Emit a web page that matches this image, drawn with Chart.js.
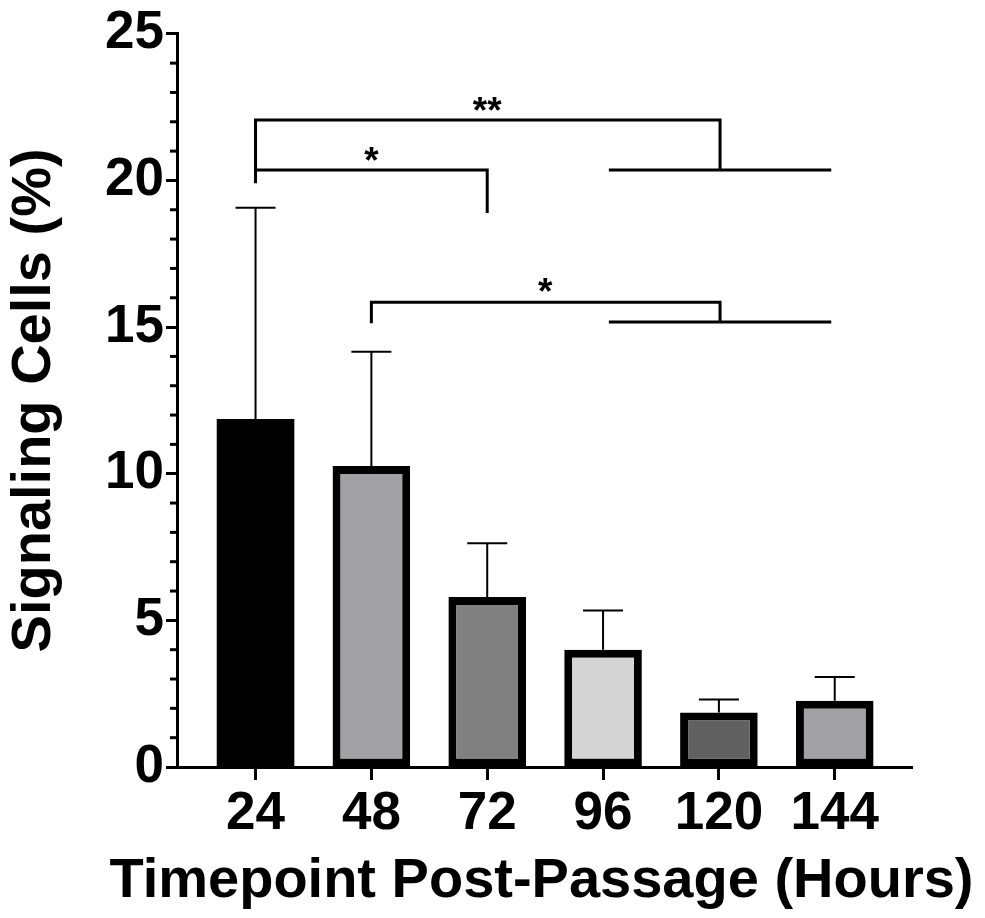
<!DOCTYPE html>
<html>
<head>
<meta charset="utf-8">
<script src="https://cdn.jsdelivr.net/npm/chart.js@4.4.1/dist/chart.umd.min.js"></script>
<style>
  html, body { margin: 0; padding: 0; background: #fff; }
  #c { display: block; }
</style>
</head>
<body>
<canvas id="c" width="985" height="918"></canvas>
<script>
// ---- data ----
const categories = ['24', '48', '72', '96', '120', '144'];
const meanValues = [11.87, 10.26, 5.80, 4.00, 1.86, 2.26];
const errorUpper = [19.07, 14.16, 7.63, 5.34, 2.30, 3.07];
const barColors = ['#000000', '#a1a0a5', '#808080', '#d4d4d4', '#616161', '#a1a0a5'];
const yTickValues = [0, 5, 10, 15, 20, 25];
const yMinorTicks = [1, 2, 3, 4, 6, 7, 8, 9, 11, 12, 13, 14, 16, 17, 18, 19, 21, 22, 23, 24];
const xTitle = 'Timepoint Post-Passage (Hours)';
const yTitle = 'Signaling Cells (%)';

// significance brackets (category index, value) and their labels
const bracketPaths = [
  [[0, 19.90], [0, 22.06], [4.01, 22.06], [4.01, 20.36]],
  [[3.05, 20.36], [4.97, 20.36]],
  [[0, 20.36], [2, 20.36], [2, 18.89]],
  [[1, 15.13], [1, 15.85], [4.01, 15.85], [4.01, 15.17]],
  [[3.05, 15.17], [4.97, 15.17]]
];
const bracketLabels = [
  { x: 2.0, y: 22.57, text: '**' },
  { x: 1.0, y: 20.86, text: '*' },
  { x: 2.5, y: 16.38, text: '*' }
];

const FONT = "'Liberation Sans', Arial, Helvetica, sans-serif";

const extrasPlugin = {
  id: 'extras',
  afterDatasetsDraw(chart) {
    const ctx = chart.ctx;
    const xs = chart.scales.x, ys = chart.scales.y;
    ctx.save();
    // error bars (upper only)
    ctx.strokeStyle = '#000';
    ctx.lineWidth = 2;
    ctx.lineCap = 'butt';
    meanValues.forEach((v, i) => {
      const x = xs.getPixelForValue(i);
      const y0 = ys.getPixelForValue(v);
      const y1 = ys.getPixelForValue(errorUpper[i]);
      ctx.beginPath();
      ctx.moveTo(x, y0);
      ctx.lineTo(x, y1);
      ctx.moveTo(x - 20, y1);
      ctx.lineTo(x + 20, y1);
      ctx.stroke();
    });
    // minor y ticks
    ctx.lineWidth = 3;
    const left = chart.chartArea.left;
    yMinorTicks.forEach(v => {
      const y = ys.getPixelForValue(v);
      ctx.beginPath();
      ctx.moveTo(left - 7, y);
      ctx.lineTo(left, y);
      ctx.stroke();
    });
    // significance brackets
    ctx.lineWidth = 3;
    ctx.lineJoin = 'miter';
    bracketPaths.forEach(path => {
      ctx.beginPath();
      path.forEach(([cx, cy], k) => {
        const px = xs.getPixelForValue(cx), py = ys.getPixelForValue(cy);
        if (k === 0) ctx.moveTo(px, py); else ctx.lineTo(px, py);
      });
      ctx.stroke();
    });
    ctx.fillStyle = '#000';
    ctx.font = 'bold 37px ' + FONT;
    ctx.textAlign = 'center';
    ctx.textBaseline = 'alphabetic';
    bracketLabels.forEach(l => {
      const px = xs.getPixelForValue(l.x), py = ys.getPixelForValue(l.y);
      ctx.fillText(l.text, px, py + 37 * 0.48);
    });
    // x axis title (drawn without width compression)
    ctx.font = 'bold 56px ' + FONT;
    ctx.textBaseline = 'middle';
    ctx.fillText(xTitle, (chart.chartArea.left + chart.chartArea.right) / 2 - 3, 882);
    ctx.restore();
  }
};

new Chart(document.getElementById('c'), {
  type: 'bar',
  data: {
    datasets: [{
      data: meanValues.map((v, i) => ({ x: i, y: v })),
      backgroundColor: barColors,
      borderColor: '#000',
      borderWidth: [0, 8, 8, 8, 8, 8],
      borderSkipped: false,
      categoryPercentage: 1,
      barPercentage: 0.67
    }]
  },
  options: {
    responsive: false,
    animation: false,
    devicePixelRatio: 1,
    layout: { padding: { top: 33, right: 73, left: 0, bottom: 0 } },
    plugins: { legend: { display: false }, tooltip: { enabled: false } },
    scales: {
      x: {
        type: 'linear',
        offset: false,
        min: -0.678,
        max: 5.667,
        afterBuildTicks: s => { s.ticks = categories.map((_, i) => ({ value: i })); },
        afterFit: s => { s.height = 151; },
        ticks: {
          callback: v => categories[v],
          font: { family: FONT, size: 53, weight: 'bold' },
          color: '#000',
          padding: 3,
          maxRotation: 0,
          autoSkip: false
        },
        grid: { offset: false, drawOnChartArea: false, tickLength: 13, tickWidth: 3, tickColor: '#000' },
        border: { color: '#000', width: 3 },
        title: { display: false }
      },
      y: {
        min: 0,
        max: 25,
        afterBuildTicks: s => { s.ticks = yTickValues.map(v => ({ value: v })); },
        afterFit: s => { s.width = 177; },
        ticks: {
          font: { family: FONT, size: 53, weight: 'bold' },
          color: '#000',
          padding: 2
        },
        grid: { drawOnChartArea: false, tickLength: 11, tickWidth: 3, tickColor: '#000' },
        border: { color: '#000', width: 3 },
        title: {
          display: true,
          text: yTitle,
          font: { family: FONT, size: 56, weight: 'bold' },
          color: '#000',
          padding: { top: 1, bottom: 0 }
        }
      }
    }
  },
  plugins: [extrasPlugin]
});
</script>
</body>
</html>
